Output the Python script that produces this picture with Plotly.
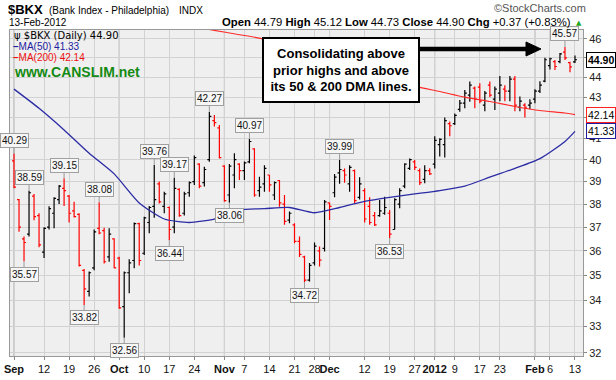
import math
import pandas as pd
import plotly.graph_objects as go

# ---------------- data ----------------
holidays = ["2011-09-05", "2011-11-24", "2011-12-26", "2012-01-02", "2012-01-16"]
dates = [d for d in pd.bdate_range("2011-09-01", "2012-02-13")
         if d.strftime("%Y-%m-%d") not in holidays]

opens = [39.95, 38.20, 36.50, 36.70, 38.35, 37.50, 35.95, 37.00, 37.60, 38.20,
         38.70, 38.35, 37.70, 37.55, 35.20, 34.35, 35.30, 36.95, 36.85, 35.75,
         36.50, 35.70, 33.75, 35.10, 35.60, 37.15, 35.90, 37.20, 37.90, 38.90,
         37.90, 37.85, 37.00, 38.65, 37.60, 38.50, 39.00, 39.80, 38.95, 40.00,
         41.85, 41.50, 39.70, 38.40, 39.30, 39.80, 39.50, 39.90, 40.50, 38.60,
         38.90, 39.30, 38.40, 39.05, 38.00, 37.30, 37.10, 36.40, 35.75, 34.80,
         35.50, 36.00, 36.10, 38.05, 38.50, 39.40, 39.50, 38.90, 39.50, 38.30,
         38.60, 37.90, 37.50, 37.50, 37.60, 37.60, 36.90, 38.00, 38.80, 39.60,
         39.90, 39.50, 39.10, 39.50, 39.80, 40.70, 40.70, 41.70, 41.70, 42.40,
         42.70, 43.10, 43.45, 43.50, 42.60, 43.60, 42.90, 43.20, 43.40, 43.30,
         43.90, 42.50, 42.60, 42.60, 42.90, 43.30, 43.80, 44.60, 44.80, 44.80,
         45.30, 44.75, 44.79]
highs = [40.29, 38.22, 36.60, 38.59, 38.45, 37.60, 37.00, 37.90, 38.30, 38.85,
         39.15, 38.40, 38.10, 37.60, 35.25, 35.15, 36.90, 38.08, 36.97, 36.95,
         36.53, 35.76, 35.15, 35.65, 37.20, 37.19, 37.45, 37.92, 39.76, 39.00,
         38.55, 37.89, 39.17, 38.70, 38.55, 39.00, 40.20, 39.84, 39.68, 42.27,
         42.12, 41.64, 39.75, 39.80, 40.30, 39.84, 39.92, 40.97, 40.53, 39.22,
         39.75, 39.30, 39.00, 39.07, 38.40, 37.67, 37.17, 36.60, 35.80, 35.50,
         36.35, 36.18, 38.18, 38.07, 39.35, 39.99, 39.60, 39.75, 39.55, 39.20,
         38.70, 38.30, 37.65, 38.18, 38.32, 37.74, 38.26, 38.70, 39.84, 40.05,
         39.99, 39.60, 39.75, 39.61, 41.10, 41.00, 42.00, 41.80, 42.20, 42.86,
         43.36, 43.78, 43.53, 43.70, 43.30, 43.78, 43.53, 44.06, 43.60, 44.06,
         44.06, 43.03, 42.70, 42.90, 43.40, 43.80, 45.00, 45.00, 44.89, 45.25,
         45.57, 44.80, 45.12]
lows = [38.70, 36.80, 35.57, 36.60, 37.30, 36.15, 35.70, 36.90, 36.95, 38.00,
        37.92, 37.20, 37.42, 35.35, 33.82, 34.15, 35.20, 36.70, 35.48, 35.55,
        35.28, 33.67, 32.56, 34.28, 35.28, 35.40, 35.83, 36.74, 37.40, 38.03,
        37.60, 36.44, 36.74, 37.45, 37.50, 38.32, 38.85, 38.70, 38.78, 39.90,
        41.56, 40.05, 38.10, 38.06, 38.70, 39.07, 39.07, 39.84, 38.32, 38.32,
        38.55, 38.55, 38.18, 37.88, 37.10, 37.17, 36.32, 35.75, 34.72, 34.75,
        35.40, 35.35, 35.97, 37.31, 38.30, 38.90, 38.95, 38.55, 38.05, 38.20,
        37.20, 37.10, 37.05, 37.45, 37.53, 36.53, 36.90, 37.82, 38.70, 39.53,
        39.53, 38.85, 38.93, 39.30, 39.60, 40.15, 40.10, 41.10, 41.64, 42.28,
        42.45, 42.77, 42.45, 42.70, 42.30, 43.00, 42.37, 42.80, 42.80, 42.80,
        42.30, 42.30, 42.00, 42.40, 42.70, 43.20, 43.75, 44.40, 44.37, 44.72,
        44.89, 44.25, 44.73]
closes = [38.75, 37.00, 36.35, 38.50, 37.45, 36.25, 36.95, 37.80, 38.25, 38.80,
          38.60, 37.60, 37.45, 35.40, 34.45, 35.10, 36.80, 36.75, 35.55, 36.70,
          35.30, 33.70, 35.10, 35.50, 37.15, 35.60, 37.40, 37.85, 38.20, 38.10,
          38.45, 36.90, 38.70, 37.50, 38.45, 38.95, 40.10, 38.80, 39.55, 42.05,
          41.75, 40.10, 38.15, 39.70, 40.00, 39.50, 39.85, 40.85, 38.40, 38.75,
          39.60, 38.85, 38.95, 38.05, 37.25, 37.60, 36.40, 35.85, 34.80, 35.40,
          36.20, 35.62, 38.10, 37.90, 39.20, 39.55, 39.30, 39.65, 38.15, 38.90,
          37.35, 37.20, 37.10, 37.70, 37.85, 36.70, 38.20, 38.60, 39.80, 40.00,
          39.65, 38.95, 39.50, 39.35, 40.90, 40.95, 41.85, 41.60, 42.10, 42.70,
          43.20, 43.60, 42.90, 42.80, 43.20, 43.10, 43.40, 43.60, 43.30, 43.90,
          42.60, 42.80, 42.50, 42.70, 43.30, 43.60, 44.90, 44.95, 44.55, 45.20,
          45.00, 44.53, 44.90]
prev_close = 40.30  # close of 31-Aug-2011

ma50_days = [0, 5, 10, 15, 20, 25, 30, 35, 40, 45, 50, 55, 60, 65, 70, 75, 80,
             85, 90, 95, 100, 105, 110, 112]
ma50_vals = [43.40, 42.45, 41.40, 40.30, 39.35, 38.05, 37.35, 37.20, 37.35,
             37.75, 37.80, 37.85, 37.62, 37.85, 38.12, 38.30, 38.45, 38.60,
             38.80, 39.20, 39.60, 40.05, 40.85, 41.33]
ma200_days = [35, 40, 45, 50, 55, 60, 65, 70, 75, 80, 85, 90, 95, 100, 105,
              110, 112]
ma200_vals = [46.69, 46.45, 46.22, 45.98, 45.55, 45.15, 44.75, 44.35, 43.95,
              43.55, 43.28, 43.00, 42.78, 42.54, 42.34, 42.22, 42.14]

tick_dates = ["2011-09-01", "2011-09-12", "2011-09-19", "2011-09-26",
              "2011-10-03", "2011-10-10", "2011-10-17", "2011-10-24",
              "2011-11-01", "2011-11-07", "2011-11-14", "2011-11-21",
              "2011-11-28", "2011-12-01", "2011-12-12", "2011-12-19",
              "2011-12-27", "2012-01-03", "2012-01-09", "2012-01-17",
              "2012-01-23", "2012-02-01", "2012-02-06", "2012-02-13"]
tick_labels = ["Sep", "12", "19", "26", "Oct", "10", "17", "24", "Nov", "7",
               "14", "21", "28", "Dec", "12", "19", "27", "2012", "9", "17",
               "23", "Feb", "6", "13"]
month_labels = ["Sep", "Oct", "Nov", "Dec", "2012", "Feb"]

price_ticks = list(range(32, 47))
hidden_price_labels = [42, 45]   # covered by the value boxes in the original

high_callouts = ["2011-09-01", "2011-09-07", "2011-09-16", "2011-09-27",
                 "2011-10-12", "2011-10-18", "2011-10-27", "2011-11-08",
                 "2011-12-05", "2012-02-09"]
low_callouts = ["2011-09-06", "2011-09-22", "2011-10-04", "2011-10-17",
                "2011-11-02", "2011-11-23", "2011-12-19"]

note_text = "Consolidating above<br>prior highs and above<br>its 50 & 200 DMA lines."
resistance_date = "2011-10-27"

# ---------------- helpers ----------------
n = len(dates)
xs = list(range(n))
pos = {d.strftime("%Y-%m-%d"): i for i, d in enumerate(dates)}
W, H = 616, 380
ML, MR, MT, MB = 10, 33, 30, 24
PW, PH = W - ML - MR, H - MT - MB


def px(x):
    return (x - ML) / PW


def py(y):
    return (H - MB - y) / PH


L10 = math.log10
prior = [prev_close] + closes[:-1]
up = [c >= p for c, p in zip(closes, prior)]

fig = go.Figure()
for flag, col in [(True, "#000000"), (False, "#ff0000")]:
    idx = [i for i in xs if up[i] == flag]
    fig.add_trace(go.Ohlc(
        x=idx, open=[opens[i] for i in idx], high=[highs[i] for i in idx],
        low=[lows[i] for i in idx], close=[closes[i] for i in idx],
        increasing=dict(line=dict(color=col, width=1.2)),
        decreasing=dict(line=dict(color=col, width=1.2)),
        tickwidth=0.4, hoverinfo="skip", showlegend=False))

fig.add_trace(go.Scatter(x=ma50_days, y=ma50_vals, mode="lines",
                         line=dict(color="#2b2ba5", width=1.3, shape="spline", smoothing=0.6),
                         hoverinfo="skip", showlegend=False))
fig.add_trace(go.Scatter(x=ma200_days, y=ma200_vals, mode="lines",
                         line=dict(color="#ff2a2a", width=1.1, shape="spline", smoothing=0.6),
                         hoverinfo="skip", showlegend=False))

tickvals = [pos[d] for d in tick_dates]
ticktext = ["<b>%s</b>" % t if t in month_labels else t for t in tick_labels]
xr = [-0.8, 113.6]
yr = [L10(31.88), L10(46.47)]

shapes = []
for d, t in zip(tick_dates, tick_labels):
    if t in month_labels:
        shapes.append(dict(type="line", xref="x", yref="paper", x0=pos[d], x1=pos[d],
                           y0=0, y1=1, line=dict(color="#a9a9a9", width=1), layer="below"))
res = highs[pos[resistance_date]]
shapes.append(dict(type="line", xref="x", yref="y", x0=30.8, x1=xr[1],
                   y0=L10(res), y1=L10(res), line=dict(color="black", width=2.6)))
# arrow from note box
shapes.append(dict(type="line", xref="paper", yref="paper", x0=px(415), x1=px(530),
                   y0=py(49), y1=py(49), line=dict(color="black", width=4.5)))
shapes.append(dict(type="path", xref="paper", yref="paper",
                   path="M %f,%f L %f,%f L %f,%f Z" % (px(526), py(42), px(541), py(49), px(526), py(56)),
                   fillcolor="black", line=dict(color="black", width=1)))

ann = []
F = "Liberation Sans, Arial, sans-serif"
# callouts
for d in high_callouts:
    i = pos[d]
    ann.append(dict(x=i, y=L10(highs[i]), xref="x", yref="y", text="%.2f" % highs[i],
                    showarrow=True, arrowhead=0, arrowwidth=1, arrowcolor="#9a9a9a",
                    ax=0, ay=-13, font=dict(family=F, size=10, color="#111"),
                    bgcolor="#f6f6f6", bordercolor="#a0a0a0", borderwidth=1, borderpad=1))
for d in low_callouts:
    i = pos[d]
    ann.append(dict(x=i, y=L10(lows[i]), xref="x", yref="y", text="%.2f" % lows[i],
                    showarrow=True, arrowhead=0, arrowwidth=1, arrowcolor="#9a9a9a",
                    ax=0, ay=13, font=dict(family=F, size=10, color="#111"),
                    bgcolor="#f6f6f6", bordercolor="#a0a0a0", borderwidth=1, borderpad=1))

# note box
ann.append(dict(x=px(341), y=py(70.5), xref="paper", yref="paper", text="<b>%s</b>" % note_text,
                xanchor="center", yanchor="middle",
                showarrow=False, font=dict(family=F, size=13, color="black"),
                bgcolor="white", bordercolor="black", borderwidth=2, borderpad=3,
                width=148, height=56, align="center"))

# header texts
last = dates[-1]
chg = closes[-1] - closes[-2]
pct = chg / closes[-2] * 100
hdr = dict(xref="paper", yref="paper", showarrow=False, yanchor="middle")
ann.append(dict(hdr, x=px(6), y=py(10), xanchor="left", text="<b>$BKX</b>",
                font=dict(family=F, size=13, color="black")))
ann.append(dict(hdr, x=px(47), y=py(11), xanchor="left", text="(Bank Index - Philadelphia)",
                font=dict(family=F, size=10, color="black")))
ann.append(dict(hdr, x=px(177), y=py(11), xanchor="left", text="INDX",
                font=dict(family=F, size=10, color="black")))
ann.append(dict(hdr, x=px(7), y=py(22.5), xanchor="left", text=last.strftime("%d-%b-%Y"),
                font=dict(family=F, size=10, color="black")))
ann.append(dict(hdr, x=px(220), y=py(22), xanchor="left",
                text="<b>Open</b> %.2f <b>High</b> %.2f <b>Low</b> %.2f <b>Close</b> %.2f <b>Chg</b> %+.2f (%+.2f%%)"
                % (opens[-1], highs[-1], lows[-1], closes[-1], chg, pct),
                font=dict(family=F, size=11.3, color="black")))
ann.append(dict(hdr, x=px(574), y=py(22.5), xanchor="left", text="▲",
                font=dict(family="DejaVu Sans", size=7, color="#1fa81f")))
ann.append(dict(hdr, x=px(492), y=py(8), xanchor="left", text="©StockCharts.com",
                font=dict(family=F, size=11, color="#555")))

# legend inside
ann.append(dict(hdr, x=px(12), y=py(35.5), xanchor="left",
                text="ψ $BKX (Daily) %.2f" % closes[-1],
                font=dict(family="DejaVu Sans", size=10, color="black")))
ann.append(dict(hdr, x=px(11), y=py(46), xanchor="left",
                text="<b>–</b>MA(50) %.2f" % ma50_vals[-1],
                font=dict(family=F, size=10, color="#1e1ea0")))
ann.append(dict(hdr, x=px(11), y=py(57.5), xanchor="left",
                text="<b>–</b>MA(200) %.2f" % ma200_vals[-1],
                font=dict(family=F, size=10, color="#ee1111")))
ann.append(dict(hdr, x=px(12), y=py(72), xanchor="left", text="<b>www.CANSLIM.net</b>",
                font=dict(family=F, size=14, color="#138a13")))

# right value boxes
for val, bc, bold in [(closes[-1], "black", True), (ma200_vals[-1], "#ff2020", False),
                      (ma50_vals[-1], "#1e1ea0", False)]:
    ann.append(dict(x=px(586), y=L10(val), xref="paper", yref="y", xanchor="left",
                    yanchor="middle", showarrow=False,
                    text=("<b>%.2f</b>" if bold else "%.2f") % val,
                    font=dict(family=F, size=10.5, color="black"),
                    bgcolor="white", bordercolor=bc, borderwidth=1, borderpad=1))

fig.update_layout(
    width=W, height=H, margin=dict(l=ML, r=MR, t=MT, b=MB, autoexpand=False),
    paper_bgcolor="white", plot_bgcolor="#efefef",
    showlegend=False, shapes=shapes, annotations=ann,
    xaxis=dict(range=xr, tickvals=tickvals, ticktext=ticktext, showgrid=True,
               gridcolor="#d2d2d2", gridwidth=1, zeroline=False, ticks="outside",
               ticklen=3, tickcolor="#888", showline=True, linecolor="#999",
               mirror=True, rangeslider=dict(visible=False), tickangle=0,
               automargin=False, tickfont=dict(family=F, size=11, color="#111")),
    yaxis=dict(type="log", range=yr, side="right", tickvals=price_ticks,
               ticktext=["" if p in hidden_price_labels else str(p) for p in price_ticks],
               showgrid=True, automargin=False,
               gridcolor="#d2d2d2", zeroline=False, ticks="outside", ticklen=3,
               tickcolor="#888", showline=True, linecolor="#999", mirror=True,
               tickfont=dict(family=F, size=11, color="#222")),
)

fig.write_html("out.html", config={"displayModeBar": False},
               post_script="document.body.style.margin='0';document.body.style.padding='0';")
